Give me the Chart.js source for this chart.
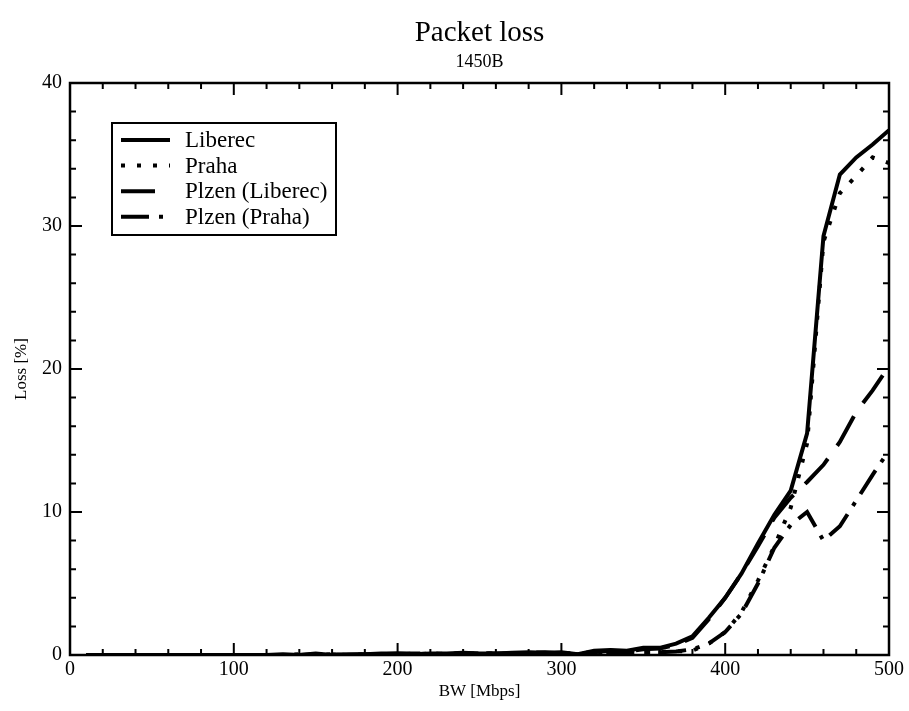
<!DOCTYPE html>
<html>
<head>
<meta charset="utf-8">
<title>Packet loss</title>
<script src="https://cdn.jsdelivr.net/npm/chart.js@4.4.1/dist/chart.umd.min.js"></script>
<style>
  html, body { margin: 0; padding: 0; background: #fff; }
  #wrap { width: 909px; height: 711px; }
</style>
</head>
<body>
<div id="wrap"><canvas id="chart" width="909" height="711"></canvas></div>
<script>
// BW [Mbps]
const bw = [10, 20, 30, 40, 50, 60, 70, 80, 90, 100,
  110, 120, 130, 140, 150, 160, 170, 180, 190, 200,
  210, 220, 230, 240, 250, 260, 270, 280, 290, 300,
  310, 320, 330, 340, 350, 360, 370, 380, 390, 400,
  410, 420, 430, 440, 450, 460, 470, 480, 490, 500];

// Loss [%]
const liberec = [0, 0, 0, 0, 0, 0, 0, 0, 0, 0,
  0, 0, 0.05, 0, 0.1, 0, 0.05, 0.05, 0.1, 0.1,
  0.05, 0.1, 0.1, 0.15, 0.1, 0.1, 0.15, 0.2, 0.15, 0.2,
  0.05, 0.3, 0.35, 0.3, 0.5, 0.5, 0.8, 1.3, 2.6, 4.0,
  5.7, 7.8, 9.8, 11.5, 15.5, 29.3, 33.6, 34.8, 35.7, 36.7];

const praha = [0, 0, 0, 0, 0, 0, 0, 0, 0, 0,
  0, 0, 0, 0.05, 0, 0.05, 0, 0.05, 0.05, 0.05,
  0.1, 0.05, 0.1, 0.1, 0.1, 0.05, 0.1, 0.1, 0.1, 0.1,
  0.1, 0.1, 0.2, 0.2, 0.2, 0.2, 0.25, 0.3, 0.8, 1.6,
  3.0, 5.2, 7.6, 10.3, 14.8, 28.9, 32.3, 33.5, 34.8, 34.4];

const plzenLiberec = [0, 0, 0, 0, 0, 0, 0, 0, 0, 0,
  0, 0, 0, 0, 0.05, 0.05, 0, 0.05, 0.05, 0.1,
  0.1, 0.1, 0.05, 0.1, 0.15, 0.1, 0.1, 0.15, 0.2, 0.1,
  0.1, 0.2, 0.3, 0.25, 0.4, 0.45, 0.7, 1.2, 2.5, 4.0,
  5.7, 7.6, 9.6, 11.0, 12.1, 13.3, 14.9, 17.0, 18.5, 20.2];

const plzenPraha = [0, 0, 0, 0, 0, 0, 0, 0, 0, 0,
  0, 0, 0, 0, 0, 0.05, 0, 0, 0.05, 0.05,
  0.05, 0.1, 0.05, 0.1, 0.1, 0.1, 0.05, 0.1, 0.1, 0.1,
  0.05, 0.1, 0.15, 0.2, 0.2, 0.2, 0.25, 0.4, 0.8, 1.6,
  2.9, 5.0, 7.5, 9.1, 10.0, 8.0, 9.0, 10.8, 12.6, 14.3];

const seriesNames = ["Liberec", "Praha", "Plzen (Liberec)", "Plzen (Praha)"];
const xTicks = [0, 100, 200, 300, 400, 500];
const yTicks = [0, 10, 20, 30, 40];

const SERIF = "'Liberation Serif', 'DejaVu Serif', serif";

function pts(ys) {
  return bw.map((x, i) => ({ x, y: ys[i] }));
}

function lineSet(label, ys, dash) {
  return {
    label,
    data: pts(ys),
    borderColor: "#000",
    borderWidth: 4,
    borderDash: dash,
    borderCapStyle: "butt",
    borderJoinStyle: "miter",
    pointRadius: 0,
    tension: 0,
    fill: false,
  };
}

// inward ticks on all four sides + frame
const frameTicks = {
  id: "frameTicks",
  afterDraw(chart) {
    const { ctx, chartArea: a, scales } = chart;
    const xs = scales.x, ys = scales.y;
    ctx.save();
    ctx.strokeStyle = "#000";
    ctx.lineWidth = 2;
    ctx.beginPath();
    for (let v = 0; v <= 500; v += 20) {
      const px = xs.getPixelForValue(v);
      const len = v % 100 === 0 ? 12 : 6;
      ctx.moveTo(px, a.bottom); ctx.lineTo(px, a.bottom - len);
      ctx.moveTo(px, a.top); ctx.lineTo(px, a.top + len);
    }
    for (let v = 0; v <= 40; v += 2) {
      const py = ys.getPixelForValue(v);
      const len = v % 10 === 0 ? 12 : 6;
      ctx.moveTo(a.left, py); ctx.lineTo(a.left + len, py);
      ctx.moveTo(a.right, py); ctx.lineTo(a.right - len, py);
    }
    ctx.stroke();
    ctx.lineWidth = 2.5;
    ctx.strokeRect(a.left, a.top, a.right - a.left, a.bottom - a.top);
    ctx.restore();
  }
};

// legend box inside the plot
const boxLegend = {
  id: "boxLegend",
  afterDraw(chart) {
    const { ctx } = chart;
    const bx = 112, by = 123, bw2 = 224, bh = 112;
    ctx.save();
    ctx.fillStyle = "#fff";
    ctx.fillRect(bx, by, bw2, bh);
    ctx.strokeStyle = "#000";
    ctx.lineWidth = 2;
    ctx.strokeRect(bx, by, bw2, bh);
    ctx.font = "23px " + SERIF;
    ctx.fillStyle = "#000";
    ctx.textBaseline = "middle";
    chart.data.datasets.forEach((ds, i) => {
      const y = by + 17 + i * 25.6;
      ctx.beginPath();
      ctx.setLineDash(ds.borderDash || []);
      ctx.lineWidth = 4;
      ctx.lineCap = "butt";
      ctx.moveTo(bx + 9, y);
      ctx.lineTo(bx + 58, y);
      ctx.stroke();
      ctx.setLineDash([]);
      ctx.fillText(ds.label, bx + 73, y + 1);
    });
    ctx.restore();
  }
};

// title and subtitle centred on plot area
const titles = {
  id: "titles",
  afterDraw(chart) {
    const { ctx, chartArea: a } = chart;
    const cx = (a.left + a.right) / 2;
    ctx.save();
    ctx.fillStyle = "#000";
    ctx.textAlign = "center";
    ctx.textBaseline = "alphabetic";
    ctx.font = "29px " + SERIF;
    ctx.fillText("Packet loss", cx, 41);
    ctx.font = "18px " + SERIF;
    ctx.fillText("1450B", cx, 67);
    ctx.restore();
  }
};

new Chart(document.getElementById("chart"), {
  type: "line",
  data: {
    datasets: [
      lineSet(seriesNames[0], liberec, []),
      lineSet(seriesNames[1], praha, [4, 12]),
      lineSet(seriesNames[2], plzenLiberec, [34, 16]),
      lineSet(seriesNames[3], plzenPraha, [28, 10, 4, 10]),
    ],
  },
  options: {
    responsive: false,
    animation: false,
    layout: { padding: { top: 83, right: 20, left: 0, bottom: 0 } },
    plugins: {
      legend: { display: false },
      title: { display: false },
      tooltip: { enabled: false },
    },
    scales: {
      x: {
        type: "linear",
        min: 0,
        max: 500,
        afterBuildTicks(s) { s.ticks = xTicks.map(v => ({ value: v })); },
        afterFit(s) { s.height = 56; },
        grid: { display: false, drawTicks: false },
        border: { display: false },
        ticks: { color: "#000", font: { family: SERIF, size: 20 }, padding: 3, maxRotation: 0 },
        title: { display: true, text: "BW [Mbps]", color: "#000", font: { family: SERIF, size: 17 }, padding: { top: 0, bottom: 9 } },
      },
      y: {
        min: 0,
        max: 40,
        afterBuildTicks(s) { s.ticks = yTicks.map(v => ({ value: v })); },
        afterFit(s) { s.width = 70; },
        grid: { display: false, drawTicks: false },
        border: { display: false },
        ticks: { color: "#000", font: { family: SERIF, size: 20 }, padding: 8 },
        title: { display: true, text: "Loss [%]", color: "#000", font: { family: SERIF, size: 17 }, padding: { top: 11, bottom: 0 } },
      },
    },
  },
  plugins: [frameTicks, titles, boxLegend],
});
</script>
</body>
</html>
